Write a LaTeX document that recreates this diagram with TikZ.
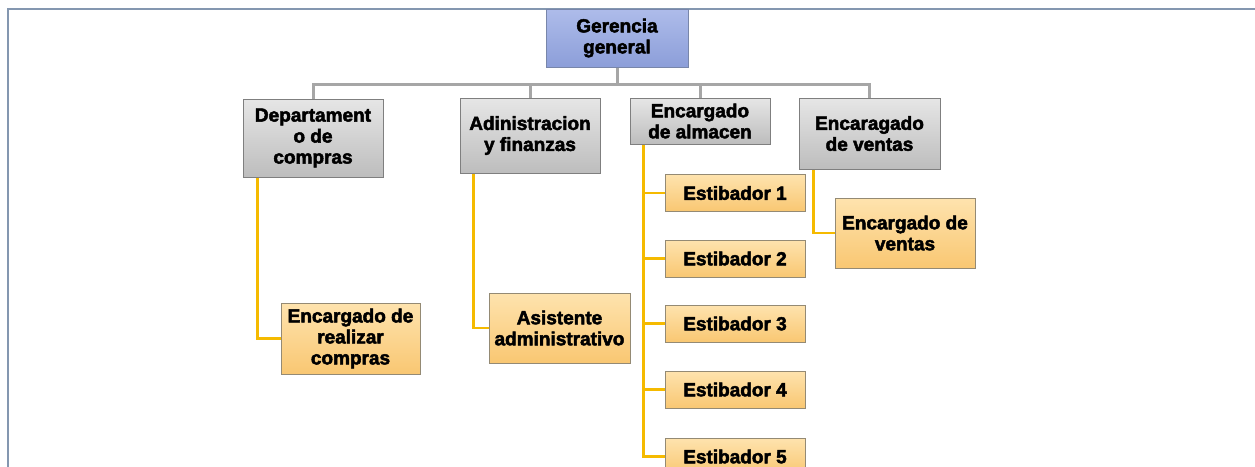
\documentclass[tikz,border=0pt]{standalone}
\usepackage{fontspec}
\setmainfont[BoldFeatures={FakeBold=2.5}]{Liberation Sans}
\definecolor{framec}{HTML}{8497B0}
\definecolor{gline}{HTML}{A6A6A6}
\definecolor{oline}{HTML}{F5BA00}
\definecolor{gtop}{HTML}{E6E6E6}
\definecolor{gbot}{HTML}{BDBDBD}
\definecolor{gbord}{HTML}{7F7F7F}
\definecolor{otop}{HTML}{FEE3AE}
\definecolor{obot}{HTML}{F9C772}
\definecolor{obord}{HTML}{948A74}
\definecolor{btop}{HTML}{AEBCEA}
\definecolor{bbot}{HTML}{8C9ED9}
\definecolor{bbord}{HTML}{7886AA}
\tikzset{
  box/.style={draw, line width=1pt, align=center, inner sep=0pt,
    font=\fontsize{19}{21}\selectfont\bfseries},
  graybox/.style={box, draw=gbord, top color=gtop, bottom color=gbot},
  orangebox/.style={box, draw=obord, top color=otop, bottom color=obot},
  bluebox/.style={box, draw=bbord, top color=btop, bottom color=bbot},
  gc/.style={draw=gline, line width=3pt},
  oc/.style={draw=oline, line width=2.2pt},
}
\begin{document}
\begin{tikzpicture}[x=1pt,y=-1pt]
\useasboundingbox (0,0) rectangle (1255,466);
\clip (0,0) rectangle (1255,466);
\fill[white] (0,0) rectangle (1255,466);
\draw[framec, line width=2pt] (8,467) -- (8,9) -- (1256,9);

% top
\node[bluebox, minimum width=142pt, minimum height=58pt] (gg) at (617,38) {Gerencia\\general};
% level 1
\node[graybox, minimum width=140pt, minimum height=78pt] (dep) at (313,138) {Departament\\o de\\compras};
\node[graybox, minimum width=140pt, minimum height=75pt] (adm) at (530,135.5) {Adinistracion\\y finanzas};
\node[graybox, minimum width=140pt, minimum height=46pt] (alm) at (700,121) {Encargado\\de almacen};
\node[graybox, minimum width=141pt, minimum height=71pt] (ven) at (869.5,133.5) {Encaragado\\de ventas};
% level 2
\node[orangebox, minimum width=139pt, minimum height=71pt] (ecomp) at (350.5,338.5) {Encargado de\\realizar\\compras};
\node[orangebox, minimum width=141pt, minimum height=70pt] (asis) at (559.5,328) {Asistente\\administrativo};
\node[orangebox, minimum width=140pt, minimum height=70pt] (even) at (905,233) {Encargado de\\ventas};
\node[orangebox, minimum width=140pt, minimum height=37pt] (e1) at (735,193) {Estibador 1};
\node[orangebox, minimum width=140pt, minimum height=37pt] (e2) at (735,258.5) {Estibador 2};
\node[orangebox, minimum width=140pt, minimum height=37pt] (e3) at (735,323.5) {Estibador 3};
\node[orangebox, minimum width=140pt, minimum height=37pt] (e4) at (735,389.5) {Estibador 4};
\node[orangebox, minimum width=140pt, minimum height=37pt] (e5) at (735,456.5) {Estibador 5};

% gray connectors
\coordinate (hub) at ([yshift=-17pt]gg.south);
\draw[gc] (gg.south) -- (hub);
\draw[gc] (dep.north) |- (ven.north |- hub) -- (ven.north);
\draw[gc] (adm.north) -- (adm.north |- hub);
\draw[gc] (alm.north) -- (alm.north |- hub);

% orange connectors
\draw[oc] ([xshift=15pt]dep.south west) |- (ecomp.west);
\draw[oc] ([xshift=14pt]adm.south west) |- (asis.west);
\draw[oc] ([xshift=15pt]ven.south west) |- (even.west);
\coordinate (almx) at ([xshift=14pt]alm.south west);
\draw[oc] (almx) |- (e5.west);
\foreach \e in {e1,e2,e3,e4} \draw[oc] (almx |- \e.west) -- (\e.west);
\end{tikzpicture}
\end{document}
